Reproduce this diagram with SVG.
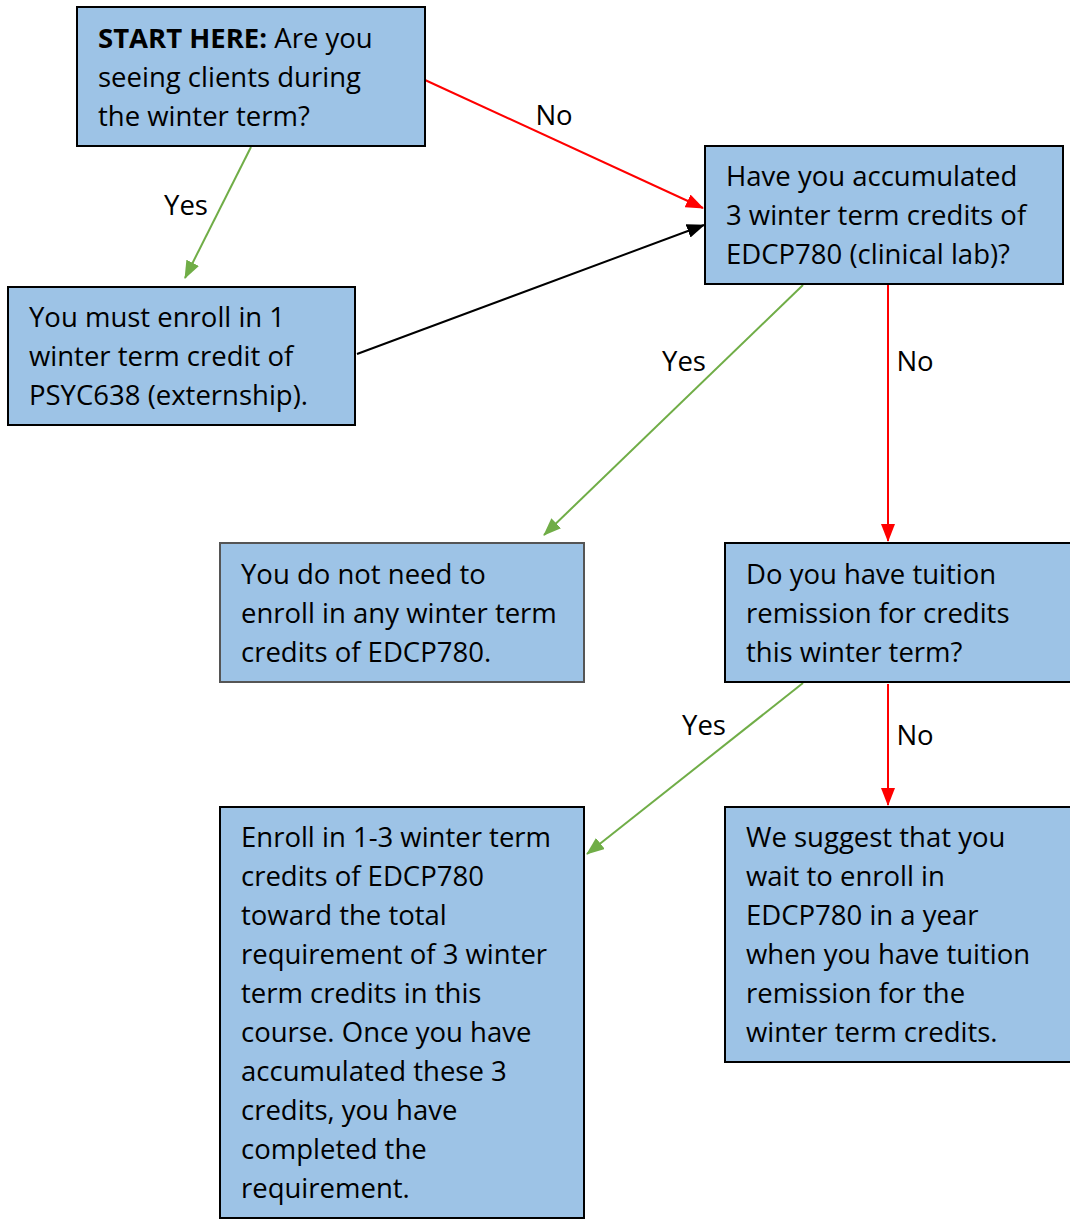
<svg xmlns="http://www.w3.org/2000/svg" width="1070" height="1220" viewBox="0 0 1070 1220">
<style>
.box{fill:#9DC3E6;stroke:#000;stroke-width:2}
.box2{fill:#9DC3E6;stroke:#555;stroke-width:2}
text{font-family:"Open Sans","Noto Sans",sans-serif;font-size:27.5px;fill:#000}
.c{fill:none;stroke-width:2}
.r{stroke:#FF0000}
.g{stroke:#70AD47}
.k{stroke:#000}
</style>
<defs>
<marker id="ar" viewBox="0 0 18 14" refX="17" refY="7" markerWidth="18" markerHeight="14" markerUnits="userSpaceOnUse" orient="auto"><path d="M0,0 L18,7 L0,14 Z" fill="#FF0000"/></marker>
<marker id="ag" viewBox="0 0 18 14" refX="17" refY="7" markerWidth="18" markerHeight="14" markerUnits="userSpaceOnUse" orient="auto"><path d="M0,0 L18,7 L0,14 Z" fill="#70AD47"/></marker>
<marker id="ak" viewBox="0 0 18 14" refX="17" refY="7" markerWidth="18" markerHeight="14" markerUnits="userSpaceOnUse" orient="auto"><path d="M0,0 L18,7 L0,14 Z" fill="#000"/></marker>
</defs>
<rect width="1070" height="1220" fill="#fff"/>
<g id="connectors">
<line class="c r" x1="425" y1="80" x2="703" y2="208" marker-end="url(#ar)"/>
<text x="554" y="125" text-anchor="middle">No</text>
<line class="c g" x1="251" y1="147" x2="185" y2="278" marker-end="url(#ag)"/>
<text x="186" y="215" text-anchor="middle">Yes</text>
<line class="c k" x1="357" y1="354" x2="704" y2="225" marker-end="url(#ak)"/>
<line class="c g" x1="803" y1="285" x2="544" y2="535" marker-end="url(#ag)"/>
<text x="684" y="371" text-anchor="middle">Yes</text>
<line class="c r" x1="888" y1="285" x2="888" y2="541" marker-end="url(#ar)"/>
<text x="915" y="371" text-anchor="middle">No</text>
<line class="c g" x1="803" y1="683" x2="587" y2="854" marker-end="url(#ag)"/>
<text x="704" y="735" text-anchor="middle">Yes</text>
<line class="c r" x1="888" y1="684" x2="888" y2="805" marker-end="url(#ar)"/>
<text x="915" y="745" text-anchor="middle">No</text>
</g>
<g id="start">
<rect class="box" x="77" y="7" width="348" height="139"/>
<text x="98" y="48"><tspan font-weight="bold">START HERE:</tspan> Are you</text>
<text x="98" y="87">seeing clients during</text>
<text x="98" y="126">the winter term?</text>
</g>
<g id="accumulated">
<rect class="box" x="705" y="146" width="358" height="138"/>
<text x="726" y="186">Have you accumulated</text>
<text x="726" y="225">3 winter term credits of</text>
<text x="726" y="264">EDCP780 (clinical lab)?</text>
</g>
<g id="externship">
<rect class="box" x="8" y="287" width="347" height="138"/>
<text x="29" y="327">You must enroll in 1</text>
<text x="29" y="366">winter term credit of</text>
<text x="29" y="405">PSYC638 (externship).</text>
</g>
<g id="noneed">
<rect class="box2" x="220" y="543" width="364" height="139"/>
<text x="241" y="584">You do not need to</text>
<text x="241" y="623">enroll in any winter term</text>
<text x="241" y="662">credits of EDCP780.</text>
</g>
<g id="remission">
<rect class="box" x="725" y="543" width="352" height="139"/>
<text x="746" y="584">Do you have tuition</text>
<text x="746" y="623">remission for credits</text>
<text x="746" y="662">this winter term?</text>
</g>
<g id="enroll">
<rect class="box" x="220" y="807" width="364" height="411"/>
<text x="241" y="847">Enroll in 1-3 winter term</text>
<text x="241" y="886">credits of EDCP780</text>
<text x="241" y="925">toward the total</text>
<text x="241" y="964">requirement of 3 winter</text>
<text x="241" y="1003">term credits in this</text>
<text x="241" y="1042">course. Once you have</text>
<text x="241" y="1081">accumulated these 3</text>
<text x="241" y="1120">credits, you have</text>
<text x="241" y="1159">completed the</text>
<text x="241" y="1198">requirement.</text>
</g>
<g id="wait">
<rect class="box" x="725" y="807" width="352" height="255"/>
<text x="746" y="847">We suggest that you</text>
<text x="746" y="886">wait to enroll in</text>
<text x="746" y="925">EDCP780 in a year</text>
<text x="746" y="964">when you have tuition</text>
<text x="746" y="1003">remission for the</text>
<text x="746" y="1042">winter term credits.</text>
</g>
</svg>
